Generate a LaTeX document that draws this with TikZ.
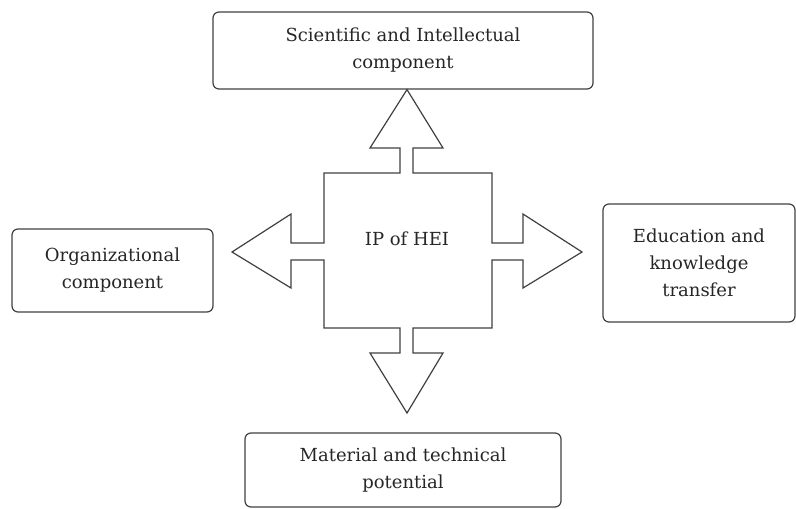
\documentclass[tikz,border=0pt]{standalone}
\usepackage{fontspec}
\setmainfont{DejaVu Serif}
\begin{document}
\begin{tikzpicture}[x=1pt,y=-1pt,
  ln/.style={draw=black!75, line width=1.2pt},
  box/.style={ln, rounded corners=6pt, align=center, text=black!85, font=\fontsize{18}{27}\selectfont, inner sep=0pt},
  lbl/.style={text=black!85, font=\fontsize{18}{27}\selectfont}]
\useasboundingbox (0,0) rectangle (796,509);
\node[box, minimum width=380pt, minimum height=77pt] (top) at (403,50.5) {Scientific and Intellectual\\component};
\node[box, minimum width=201pt, minimum height=83pt] (left) at (112.5,270.5) {Organizational\\component};
\node[box, minimum width=192pt, minimum height=118pt] (right) at (699,263) {Education and\\knowledge\\transfer};
\node[box, minimum width=316pt, minimum height=74pt] (bottom) at (403,470) {Material and technical\\potential};
\node[lbl] (ip) at (407,239) {IP of HEI};
\draw[ln, line join=miter]
  (324,173) -- (400,173) -- (400,148) -- (370,148) -- (ip |- top.south) -- (443,148) -- (413,148) -- (413,173)
  -- (492,173) -- (492,243) -- (523,243) -- (523,214) -- (582,252) -- (523,288) -- (523,260) -- (492,260)
  -- (492,328) -- (413,328) -- (413,353) -- (443,353) -- (407,413) -- (370,353) -- (400,353) -- (400,328)
  -- (324,328) -- (324,260) -- (291,260) -- (291,288) -- (232,252) -- (291,214) -- (291,243) -- (324,243) -- cycle;
\end{tikzpicture}
\end{document}
